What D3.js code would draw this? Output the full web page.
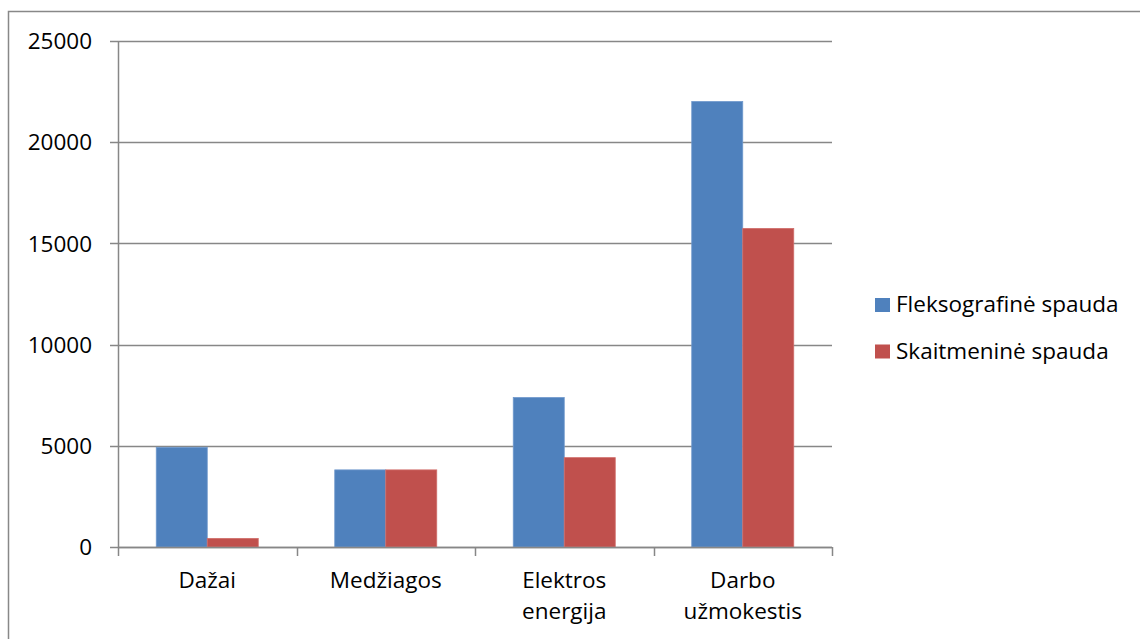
<!DOCTYPE html>
<html>
<head>
<meta charset="utf-8">
<style>
  body { margin: 0; background: #fff; }
  text { font-family: "Open Sans", sans-serif; fill: #000; }
</style>
</head>
<body>
<svg width="1140" height="639"></svg>
<script src="https://d3js.org/d3.v7.min.js"></script>
<script>

var categories = [["Dažai"], ["Medžiagos"], ["Elektros", "energija"], ["Darbo", "užmokestis"]];
var series = ["Fleksografinė spauda", "Skaitmeninė spauda"];
var flekso = [4925, 3810, 7385, 22010];
var skaitm = [425, 3810, 4415, 15740];
var yTicks = [0, 5000, 10000, 15000, 20000, 25000];
var colors = ["#4f81bd", "#c0504d"];

var svg = d3.select("svg"),
    margin = {top: 41, right: 308, bottom: 92, left: 118},
    width = +svg.attr("width") - margin.left - margin.right,
    height = +svg.attr("height") - margin.top - margin.bottom;

// chart frame, runs off the right and bottom edges
svg.append("rect")
    .attr("x", 8.5).attr("y", 11.5)
    .attr("width", 1200).attr("height", 700)
    .attr("fill", "none")
    .attr("stroke", "#888")
    .attr("stroke-width", 1.5);

var g = svg.append("g").attr("transform", "translate(" + margin.left + "," + margin.top + ")");

var keys = categories.map(function(d) { return d.join(" "); });
var data = keys.map(function(k, i) { return {key: k, values: [flekso[i], skaitm[i]]}; });

var x0 = d3.scaleBand().domain(keys).range([0, width]).padding(0);
var x1 = d3.scaleBand().domain(d3.range(series.length)).range([0, x0.bandwidth()])
    .paddingInner(0).paddingOuter(0.75);
var y = d3.scaleLinear().domain([0, 25000]).range([height, 0]);

// gridlines
g.append("g")
  .selectAll("line")
  .data(yTicks)
  .enter().append("line")
    .attr("x1", -8).attr("x2", width)
    .attr("y1", function(d) { return Math.round(y(d)) + 0.5; })
    .attr("y2", function(d) { return Math.round(y(d)) + 0.5; })
    .attr("stroke", "#878787")
    .attr("stroke-width", 1.5);

// bars
g.append("g")
  .selectAll("g")
  .data(data)
  .enter().append("g")
    .attr("transform", function(d) { return "translate(" + x0(d.key) + ",0)"; })
  .selectAll("rect")
  .data(function(d) { return d.values; })
  .enter().append("rect")
    .attr("x", function(d, i) { return x1(i); })
    .attr("width", x1.bandwidth())
    .attr("y", function(d) { return y(d); })
    .attr("height", function(d) { return height - y(d); })
    .attr("fill", function(d, i) { return colors[i]; })
    .attr("stroke", function(d, i) { return i === 0 ? "#6f98cc" : "#d06e6b"; })
    .attr("stroke-width", 0.8);

// y axis line
g.append("line")
    .attr("x1", 0.5).attr("x2", 0.5)
    .attr("y1", 0).attr("y2", height)
    .attr("stroke", "#878787")
    .attr("stroke-width", 1.5);

// x axis line + ticks
g.append("line")
    .attr("x1", 0).attr("x2", width)
    .attr("y1", height + 0.5).attr("y2", height + 0.5)
    .attr("stroke", "#878787")
    .attr("stroke-width", 1.5);

g.append("g")
  .selectAll("line")
  .data(d3.range(keys.length + 1))
  .enter().append("line")
    .attr("x1", function(i) { return Math.round(i * x0.step()) + 0.5; })
    .attr("x2", function(i) { return Math.round(i * x0.step()) + 0.5; })
    .attr("y1", height).attr("y2", height + 9)
    .attr("stroke", "#878787")
    .attr("stroke-width", 1.5);

// y labels
g.append("g")
  .selectAll("text")
  .data(yTicks)
  .enter().append("text")
    .attr("x", -26)
    .attr("y", function(d) { return y(d); })
    .attr("dy", "0.36em")
    .attr("text-anchor", "end")
    .attr("font-size", 22.5)
    .text(function(d) { return d; });

// category labels
var cat = g.append("g")
  .selectAll("text")
  .data(categories)
  .enter().append("text")
    .attr("text-anchor", "middle")
    .attr("font-size", 22.5)
    .attr("transform", function(d, i) { return "translate(" + (x0(keys[i]) + x0.bandwidth() / 2) + "," + (height + 41) + ")"; });

cat.selectAll("tspan")
  .data(function(d) { return d; })
  .enter().append("tspan")
    .attr("x", 0)
    .attr("y", function(d, i) { return i * 31; })
    .text(function(d) { return d; });

// legend
var legend = svg.append("g")
  .selectAll("g")
  .data(series)
  .enter().append("g")
    .attr("transform", function(d, i) { return "translate(875," + (298 + i * 46.5) + ")"; });

legend.append("rect")
    .attr("width", 15).attr("height", 14)
    .attr("fill", function(d, i) { return colors[i]; });

legend.append("text")
    .attr("x", 21)
    .attr("y", 14)
    .attr("font-size", 22.5)
    .text(function(d) { return d; });

</script>
</body>
</html>
